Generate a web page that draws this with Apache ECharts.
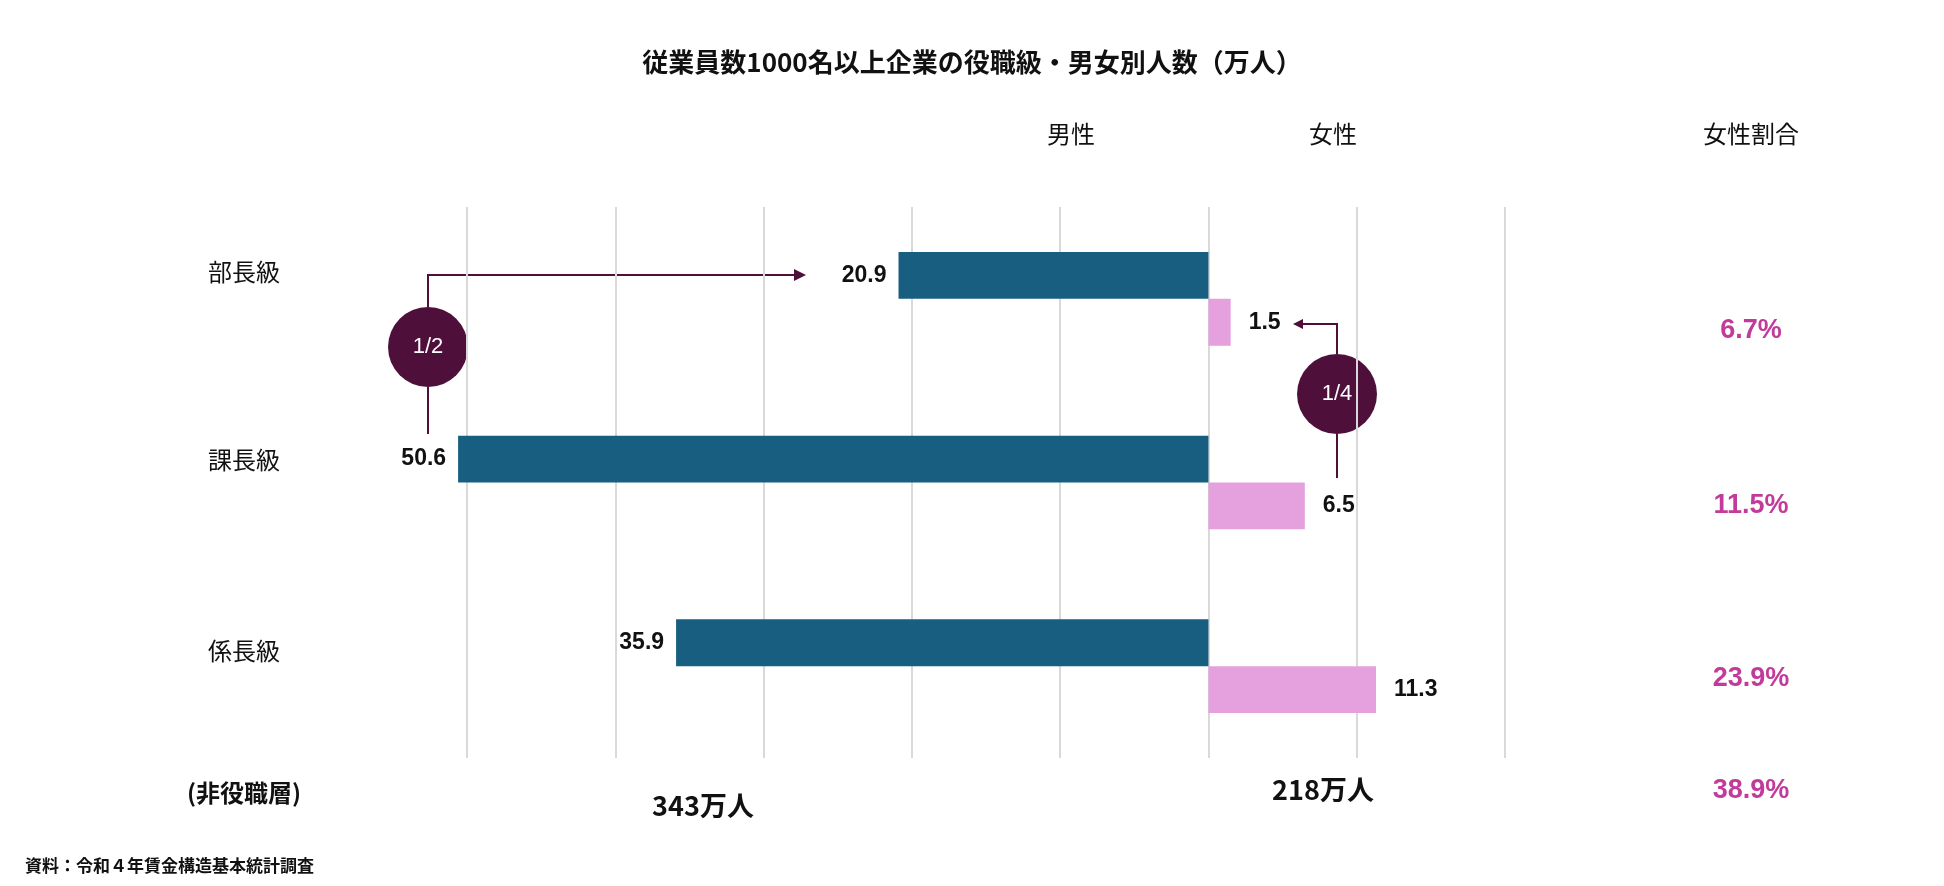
<!DOCTYPE html>
<html><head><meta charset="utf-8">
<script src="https://cdn.jsdelivr.net/npm/echarts@6/dist/echarts.min.js"></script>
<style>html,body{margin:0;padding:0;background:#fff}#c{width:1944px;height:886px}</style>
</head><body><div id="c"></div>
<script>
const categories = ['部長級','課長級','係長級'];
const maleValues = [20.9, 50.6, 35.9];
const femaleValues = [1.5, 6.5, 11.3];
const femaleRatios = ['6.7%','11.5%','23.9%'];
const nonMgr = {label:'(非役職層)', male:'343万人', female:'218万人', ratio:'38.9%'};
const F = '"Noto Sans CJK JP", "Liberation Sans", sans-serif';
const A = '"Liberation Sans", "Noto Sans CJK JP", sans-serif';
const chart = echarts.init(document.getElementById('c'));
const lbl = {fontFamily:A, fontWeight:'bold', fontSize:23, color:'#111'};
const purple = '#4f0f3b', mag = '#c23b9b';
const texts = [];
function t(x,y,s,o){texts.push({type:'text',x,y,style:Object.assign({text:s,font:'20px '+F,fill:'#111',textAlign:'center',textVerticalAlign:'middle'},o||{})});}
t(972,62,'従業員数1000名以上企業の役職級・男女別人数（万人）',{font:'bold 26px '+F});
t(1071,134,'男性',{font:'24px '+F}); t(1333,134,'女性',{font:'24px '+F}); t(1751,134,'女性割合',{font:'24px '+F});
categories.forEach((c,i)=>t(244,[272,460,651][i],c,{font:'24px '+F}));
femaleRatios.forEach((r,i)=>t(1751,[331,506,679][i],r,{font:'bold 27px '+A,fill:mag}));
t(244,793,nonMgr.label,{font:'bold 24px '+F});
t(703,806,nonMgr.male,{font:'bold 27px '+F});
t(1323,790,nonMgr.female,{font:'bold 27px '+F});
t(1751,791,nonMgr.ratio,{font:'bold 27px '+A,fill:mag});
texts.push({type:'text',x:25,y:866,style:{text:'資料：令和４年賃金構造基本統計調査',font:'bold 17px '+F,fill:'#111',textVerticalAlign:'middle'}});
const ann = [
 {type:'polyline',shape:{points:[[428,307],[428,275],[800,275]]},style:{stroke:purple,lineWidth:2,fill:null}},
 {type:'polygon',shape:{points:[[806,275],[794,269],[794,281]]},style:{fill:purple}},
 {type:'line',shape:{x1:428,y1:387,x2:428,y2:434},style:{stroke:purple,lineWidth:2}},
 {type:'circle',shape:{cx:428,cy:347,r:40},style:{fill:purple}},
 {type:'text',x:428,y:347,style:{text:'1/2',font:'22px '+A,fill:'#fff',textAlign:'center',textVerticalAlign:'middle'}},
 {type:'polyline',shape:{points:[[1337,354],[1337,324],[1300,324]]},style:{stroke:purple,lineWidth:2,fill:null}},
 {type:'polygon',shape:{points:[[1293,324],[1303,319],[1303,329]]},style:{fill:purple}},
 {type:'line',shape:{x1:1337,y1:434,x2:1337,y2:478},style:{stroke:purple,lineWidth:2}},
 {type:'circle',shape:{cx:1337,cy:394,r:40},style:{fill:purple}},
 {type:'text',x:1337,y:394,style:{text:'1/4',font:'22px '+A,fill:'#fff',textAlign:'center',textVerticalAlign:'middle'}}
];
chart.setOption({
 animation:false,
 grid:{left:467,right:1944-1505,top:207,bottom:886-758},
 xAxis:{type:'value',min:-50,max:20,interval:10,axisLabel:{show:false},axisLine:{show:false},axisTick:{show:false},
   splitLine:{lineStyle:{color:'#d9d9d9',width:2}}},
 yAxis:{type:'category',data:categories,inverse:true,axisLabel:{show:false},axisLine:{show:false},axisTick:{show:false}},
 series:[
  {type:'bar',clip:false,data:maleValues.map(v=>-v),barGap:'0%',barCategoryGap:'49%',itemStyle:{color:'#175e80'},
   label:{show:true,position:'left',distance:12,formatter:p=>(-p.value).toFixed(1),...lbl}},
  {type:'bar',clip:false,data:femaleValues,itemStyle:{color:'#e4a1de'},
   label:{show:true,position:'right',distance:18,formatter:p=>p.value.toFixed(1),...lbl}}
 ],
 graphic:texts.concat(ann)
});
</script></body></html>
